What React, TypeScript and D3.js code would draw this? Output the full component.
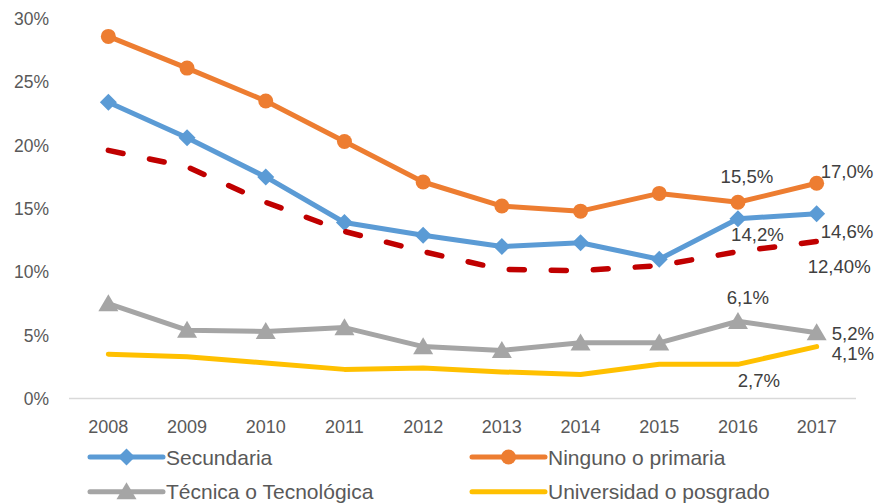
import React from "react";
import * as d3 from "d3";

const years = ["2008", "2009", "2010", "2011", "2012", "2013", "2014", "2015", "2016", "2017"];
const secundaria = [23.4, 20.6, 17.5, 13.9, 12.9, 12.0, 12.3, 11.0, 14.2, 14.6];
const ninguno = [28.6, 26.1, 23.5, 20.3, 17.1, 15.2, 14.8, 16.2, 15.5, 17.0];
const tecnica = [7.5, 5.4, 5.3, 5.6, 4.1, 3.8, 4.4, 4.4, 6.1, 5.2];
const universidad = [3.5, 3.3, 2.8, 2.3, 2.4, 2.1, 1.9, 2.7, 2.7, 4.1];
const total = [19.6, 18.3, 15.5, 13.2, 11.6, 10.2, 10.1, 10.5, 11.6, 12.4];
const yTicks = [0, 5, 10, 15, 20, 25, 30];

const W = 877;
const H = 504;
const FONT = "'Liberation Sans', Arial, sans-serif";

type Series = {
  name: string;
  values: number[];
  color: string;
  marker: "diamond" | "circle" | "triangle" | "none";
  dashed?: boolean;
  decimals: number;
  labels: { i: number; dx: number; dy: number; anchor: "start" | "middle" | "end" }[];
  legend: boolean;
};

const series: Series[] = [
  {
    name: "Secundaria", values: secundaria, color: "#5B9BD5", marker: "diamond", decimals: 1, legend: true,
    labels: [{ i: 8, dx: 19.5, dy: 16, anchor: "middle" }, { i: 9, dx: 4, dy: 18, anchor: "start" }],
  },
  {
    name: "Ninguno o primaria", values: ninguno, color: "#ED7D31", marker: "circle", decimals: 1, legend: true,
    labels: [{ i: 8, dx: 9, dy: -26, anchor: "middle" }, { i: 9, dx: 4, dy: -11.5, anchor: "start" }],
  },
  {
    name: "Técnica o Tecnológica", values: tecnica, color: "#A5A5A5", marker: "triangle", decimals: 1, legend: true,
    labels: [{ i: 8, dx: 10, dy: -23.5, anchor: "middle" }, { i: 9, dx: 15, dy: 1, anchor: "start" }],
  },
  {
    name: "Universidad o posgrado", values: universidad, color: "#FFC000", marker: "none", decimals: 1, legend: true,
    labels: [{ i: 8, dx: 21, dy: 16, anchor: "middle" }, { i: 9, dx: 15, dy: 6.5, anchor: "start" }],
  },
  {
    name: "Total", values: total, color: "#C00000", marker: "none", dashed: true, decimals: 2, legend: false,
    labels: [{ i: 9, dx: -9, dy: 25, anchor: "start" }],
  },
];

const x = d3.scaleBand<string>().domain(years).range([69, 856]);
const xc = (y: string) => (x(y) as number) + x.bandwidth() / 2;
const y = d3.scaleLinear().domain([0, 30]).range([398.5, 18.7]);

const fmt = (v: number, d: number) => d3.format(`.${d}f`)(v).replace(".", ",") + "%";

function Marker({ kind, cx, cy, color }: { kind: string; cx: number; cy: number; color: string }) {
  if (kind === "diamond") {
    const s = 8.5;
    return <path d={`M${cx},${cy - s}L${cx + s},${cy}L${cx},${cy + s}L${cx - s},${cy}Z`} fill={color} />;
  }
  if (kind === "circle") {
    return <circle cx={cx} cy={cy} r={7.5} fill={color} />;
  }
  if (kind === "triangle") {
    const w = 10, h = 17;
    return <path d={`M${cx},${cy - h * 0.55}L${cx + w},${cy + h * 0.45}L${cx - w},${cy + h * 0.45}Z`} fill={color} />;
  }
  return null;
}

export default function App() {
  const line = d3.line<number>().x((_, i) => xc(years[i])).y((v) => y(v));
  const legendItems = series.filter((s) => s.legend);
  const legendPos = [
    { lx: 90, ty: 457 },
    { lx: 472, ty: 457 },
    { lx: 90, ty: 491.7 },
    { lx: 472, ty: 491.7 },
  ];
  return (
    <svg width={W} height={H} style={{ position: "absolute", left: 0, top: 0, background: "#fff" }} fontFamily={FONT}>
      {yTicks.map((t) => (
        <text key={t} x={49} y={y(t) + 6.3} textAnchor="end" fontSize={17.5} fill="#595959">
          {t}%
        </text>
      ))}
      <line x1={69} x2={856} y1={y(0)} y2={y(0)} stroke="#D9D9D9" strokeWidth={1.5} />
      {years.map((yr) => (
        <text key={yr} x={xc(yr)} y={433} textAnchor="middle" fontSize={18} fill="#595959">
          {yr}
        </text>
      ))}
      {series.map((s) => (
        <g key={s.name}>
          <path
            d={line(s.values) || ""}
            fill="none"
            stroke={s.color}
            strokeWidth={s.dashed ? 5.5 : 5}
            strokeLinejoin="round"
            strokeLinecap="round"
            strokeDasharray={s.dashed ? "15,27" : undefined}
          />
          {s.values.map((v, i) => (
            <Marker key={i} kind={s.marker} cx={xc(years[i])} cy={y(v)} color={s.color} />
          ))}
        </g>
      ))}
      {series.map((s) =>
        s.labels.map((l) => (
          <text
            key={s.name + l.i}
            x={xc(years[l.i]) + l.dx}
            y={y(s.values[l.i]) + l.dy + 6.7}
            textAnchor={l.anchor}
            fontSize={18.6}
            fill="#404040"
          >
            {fmt(s.values[l.i], s.decimals)}
          </text>
        ))
      )}
      {legendItems.map((s, k) => {
        const p = legendPos[k];
        return (
          <g key={s.name}>
            <line x1={p.lx} x2={p.lx + 73} y1={p.ty} y2={p.ty} stroke={s.color} strokeWidth={5} strokeLinecap="round" />
            <Marker kind={s.marker} cx={p.lx + 36.5} cy={p.ty} color={s.color} />
            <text x={p.lx + 76} y={p.ty + 7.5} fontSize={21} fill="#595959">
              {s.name}
            </text>
          </g>
        );
      })}
    </svg>
  );
}
